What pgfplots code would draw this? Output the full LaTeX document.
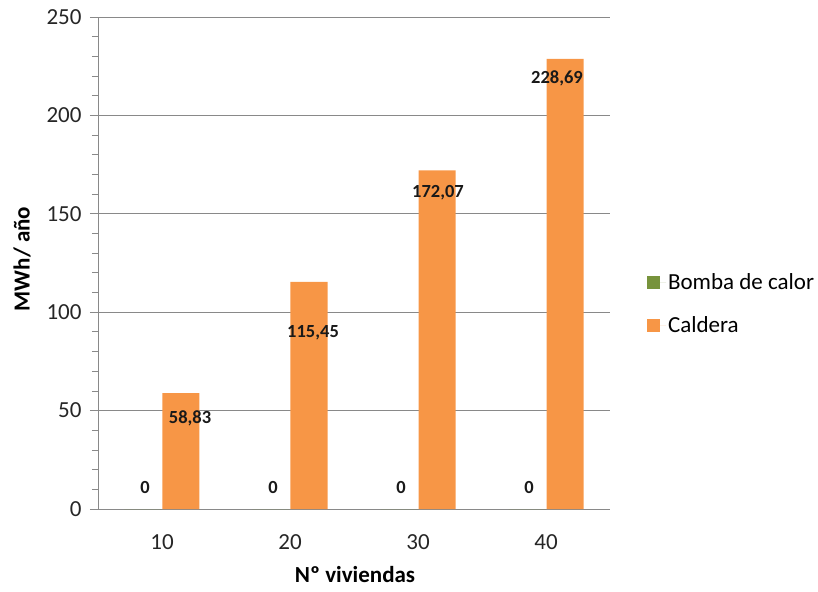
\documentclass[border=0pt]{standalone}
\usepackage{pgfplots}
\pgfplotsset{compat=1.18}
\usepackage{fontspec}
\setmainfont{Carlito}
\definecolor{cOrange}{HTML}{F79646}
\definecolor{cGreen}{HTML}{77933C}
\definecolor{cGrid}{HTML}{898989}
\begin{document}
\begin{tikzpicture}
\begin{axis}[
  scale only axis, width=512bp, height=492bp,
  xmin=-0.5, xmax=3.5, ymin=0, ymax=250,
  axis x line*=bottom, axis y line*=left,
  axis line style={cGrid, line width=0.8bp},
  ybar=1bp, bar width=37bp,
  xtick={0,1,2,3}, xticklabels={10,20,30,40},
  x tick style={draw=none},
  extra x ticks={-0.5,0.5,1.5,2.5,3.5}, extra x tick labels={},
  extra x tick style={tick style={draw=cGrid, line width=0.8bp}, major tick length=8bp, tick align=outside, grid=none},
  ytick={0,50,100,150,200,250},
  minor y tick num=4,
  tick align=outside,
  major tick length=8bp, minor tick length=6bp,
  y tick style={cGrid, line width=0.8bp},
  ymajorgrids, major grid style={cGrid, line width=0.8bp},
  tick label style={font=\fontsize{23bp}{27bp}\selectfont, text=black!85},
  /pgf/number format/assume math mode=true,
  xticklabel style={yshift=-14bp},
  yticklabel style={xshift=-5bp},
  ylabel={\textbf{MWh/ año}},
  xlabel={\textbf{Nº viviendas}},
  label style={font=\fontsize{23bp}{27bp}\selectfont},
  ylabel style={at={(axis description cs:-0.1484,0.508)}, anchor=center},
  xlabel style={at={(axis description cs:0.502,-0.134)}, anchor=center},
  legend style={at={(axis description cs:1.072,0.417)}, anchor=west, draw=none, fill=none,
    font=\fontsize{23bp}{27bp}\selectfont, row sep=21bp, inner sep=0pt},
  legend cell align=left,
  legend image code/.code={\fill[#1] (0bp,-6.5bp) rectangle (13bp,6.5bp); \path (0bp,0bp) -- (19bp,0bp);},
]
\addplot[fill=cGreen, draw=none] coordinates {(0,0) (1,0) (2,0) (3,0)};
\addplot[fill=cOrange, draw=none] coordinates {(0,58.83) (1,115.45) (2,172.07) (3,228.69)};
\legend{Bomba de calor, Caldera}
\begin{scope}[every node/.style={font=\bfseries\fontsize{18.5bp}{22bp}\selectfont, text=black!90}]
\node at (axis cs:0.219,46.2) {58,83};
\node at (axis cs:1.18,89.4) {115,45};
\node at (axis cs:2.156,160.6) {172,07};
\node at (axis cs:3.086,219) {228,69};
\node at (axis cs:-0.133,10.7) {0};
\node at (axis cs:0.867,10.7) {0};
\node at (axis cs:1.867,10.7) {0};
\node at (axis cs:2.867,10.7) {0};
\end{scope}
\end{axis}
\useasboundingbox (-98bp,-83bp) rectangle (720bp,509bp);
\end{tikzpicture}
\end{document}
